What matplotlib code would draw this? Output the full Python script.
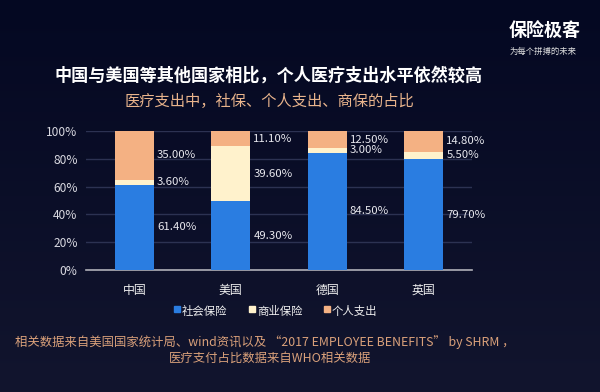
import numpy as np
import matplotlib
matplotlib.use("Agg")
import matplotlib.pyplot as plt
from matplotlib.patches import Rectangle

plt.rcParams['font.family'] = ['Noto Sans CJK SC', 'DejaVu Sans']

categories = ['中国', '美国', '德国', '英国']
social = [61.4, 49.3, 84.5, 79.7]
commercial = [3.6, 39.6, 3.0, 5.5]
personal = [35.0, 11.1, 12.5, 14.8]
series_names = ['社会保险', '商业保险', '个人支出']
yticks = [0, 20, 40, 60, 80, 100]

c_blue = '#2A7DE1'
c_cream = '#FFF2CC'
c_orange = '#F4B183'
colors = [c_blue, c_cream, c_orange]

W, H = 600, 392
fig = plt.figure(figsize=(6, 3.92), dpi=100)
fig.patch.set_facecolor('#060a24')

# background gradient
bg = fig.add_axes([0, 0, 1, 1], zorder=-10)
grad = np.linspace(0, 1, 256)[:, None]
top = np.array([0x04, 0x08, 0x22]) / 255
bot = np.array([0x12, 0x15, 0x2e]) / 255
img = top[None, None, :] * (1 - grad[..., None]) + bot[None, None, :] * grad[..., None]
img = np.repeat(img, 4, axis=1)
bg.imshow(img, aspect='auto', extent=[0, 1, 0, 1], origin='upper')
bg.set_axis_off()

ax = fig.add_axes([86 / W, 1 - 270 / H, (472 - 86) / W, (270 - 131) / H])
ax.set_facecolor('none')
x = np.arange(len(categories))
bw = 0.40
series = [social, commercial, personal]
bottom = np.zeros(len(categories))
for vals, col in zip(series, colors):
    vals = np.array(vals)
    ax.bar(x, vals, bw, bottom=bottom, color=col, zorder=3)
    for xi, b, v in zip(x, bottom, vals):
        ax.text(xi + bw / 2 + 0.035, b + v / 2, f'{v:.2f}%', ha='left', va='center',
                color='#e8e8ee', fontsize=8.2, zorder=4)
    bottom = bottom + vals

ax.set_xlim(-0.5, 3.5)
ax.set_ylim(0, 100)
ax.set_yticks(yticks)
ax.set_yticklabels([f'{t}%' for t in yticks], color='#d8d8e0', fontsize=8.6)
ax.set_xticks(x)
ax.set_xticklabels(categories, color='#f0f0f0', fontsize=8.6)
ax.tick_params(axis='both', length=0)
ax.tick_params(axis='x', pad=10)
ax.tick_params(axis='y', pad=6)
ax.grid(axis='y', color='#2c3252', linewidth=1, zorder=0)
for s in ['top', 'right', 'left']:
    ax.spines[s].set_visible(False)
ax.spines['bottom'].set_color('#b0b0b8')
ax.spines['bottom'].set_linewidth(1.2)

# legend
leg_x = [174, 249, 324]
for lx, name, col in zip(leg_x, series_names, colors):
    fig.patches.append(Rectangle((lx / W, 1 - 312 / H), 6 / W, 6 / H,
                                 transform=fig.transFigure, color=col))
    fig.text((lx + 8) / W, 1 - 311 / H, name, color='#f0f0f0', fontsize=8.2,
             ha='left', va='center')

# titles
fig.text(269 / W, 1 - 76 / H, '中国与美国等其他国家相比，个人医疗支出水平依然较高',
         color='white', fontsize=12.3, fontweight='bold', ha='center', va='center')
fig.text(269 / W, 1 - 101 / H, '医疗支出中，社保、个人支出、商保的占比',
         color='#E9B48C', fontsize=11, ha='center', va='center')

# logo
fig.text(545 / W, 1 - 30 / H, '保险极客', color='white', fontsize=13,
         fontweight='bold', ha='center', va='center')
fig.text(543 / W, 1 - 51 / H, '为每个拼搏的未来', color='#e0e0e0', fontsize=6,
         ha='center', va='center')

# source
fig.text(265 / W, 1 - 342 / H,
         '相关数据来自美国国家统计局、wind资讯以及 “2017 EMPLOYEE BENEFITS” by SHRM ，',
         color='#D9A07A', fontsize=8.9, ha='center', va='center')
fig.text(270 / W, 1 - 358 / H, '医疗支付占比数据来自WHO相关数据',
         color='#D9A07A', fontsize=8.9, ha='center', va='center')

fig.savefig('out.png', dpi=100, facecolor=fig.get_facecolor())
